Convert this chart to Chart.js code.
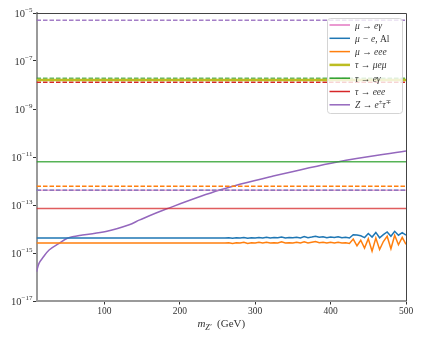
<!DOCTYPE html>
<html>
<head>
<meta charset="utf-8">
<script src="https://cdn.jsdelivr.net/npm/chart.js@4.4.0/dist/chart.umd.min.js"></script>
<style>
  html, body { margin: 0; padding: 0; background: #fff; }
</style>
</head>
<body>
<canvas id="myChart" width="424" height="339"></canvas>
<script>
const massRange = [10, 500];
const yExponents = [-17, -15, -13, -11, -9, -7, -5];
const xTicks = [100, 200, 300, 400, 500];

// legend entries, '^' marks a superscript character
const seriesNames = ['μ → eγ', 'μ − e, Al', 'μ → eee', 'τ → μeμ', 'τ → eγ', 'τ → eee', 'Z → e^±τ^∓'];
const seriesColors = ['#e377c2', '#1f77b4', '#ff7f0e', '#bcbd22', '#2ca02c', '#d62728', '#9467bd'];

// experimental bounds (dashed lines)
const boundZ = 5.0e-6;
const boundTauEGamma = 1.9e-8;
const boundTauEee = 1.3e-8;
const boundMuEee = 6.0e-13;
const boundMuEGamma = 4.1e-13;
const boundMuEAl = 4.1e-13;

// flat predictions
const tauMuEMu = 1.6e-8;
const tauEGamma = 6.4e-12;
const tauEee = 7.1e-14;

// mu-e conversion and mu -> eee, noisy at high mass
const muMass = [10, 60, 110, 160, 210, 260,
  265, 270, 275, 280, 285, 290, 295, 300, 305, 310, 315, 320, 325, 330, 335, 340,
  345, 350, 355, 360, 365, 370, 375, 380, 385, 390, 395, 400, 405, 410, 415, 420,
  425, 430, 435, 440, 445, 450, 455, 460, 465, 470, 475, 480, 485, 490, 495, 500];
const muEAl = [4.2e-15, 4.2e-15, 4.2e-15, 4.2e-15, 4.2e-15, 4.2e-15,
  4.3e-15, 4.1e-15, 4.3e-15, 4.2e-15, 4.4e-15, 4.1e-15, 4.3e-15, 4.2e-15, 4.4e-15, 4.2e-15,
  4.5e-15, 4.2e-15, 4.4e-15, 4.3e-15, 4.6e-15, 4.2e-15, 4.4e-15, 4.3e-15, 4.5e-15, 4.2e-15,
  4.8e-15, 4.3e-15, 4.6e-15, 5.0e-15, 4.5e-15, 4.7e-15, 4.3e-15, 4.6e-15, 4.4e-15, 4.7e-15,
  4.3e-15, 4.5e-15, 4.2e-15, 5.8e-15, 5.6e-15, 5.2e-15, 4.4e-15, 6.5e-15, 4.6e-15, 7.2e-15,
  4.3e-15, 5.8e-15, 7.5e-15, 5.0e-15, 8.0e-15, 5.5e-15, 7.0e-15, 5.6e-15];
const muEee = [2.6e-15, 2.6e-15, 2.6e-15, 2.6e-15, 2.6e-15, 2.6e-15,
  2.7e-15, 2.5e-15, 2.7e-15, 2.6e-15, 2.8e-15, 2.5e-15, 2.7e-15, 2.6e-15, 2.8e-15, 2.6e-15,
  2.8e-15, 2.6e-15, 2.7e-15, 2.6e-15, 2.9e-15, 2.6e-15, 2.7e-15, 2.6e-15, 2.8e-15, 2.6e-15,
  2.9e-15, 2.6e-15, 2.8e-15, 3.0e-15, 2.7e-15, 2.8e-15, 2.6e-15, 2.8e-15, 2.6e-15, 2.8e-15,
  2.6e-15, 2.7e-15, 2.5e-15, 3.8e-15, 2.0e-15, 3.4e-15, 1.6e-15, 3.9e-15, 1.2e-15, 4.2e-15,
  1.4e-15, 3.0e-15, 5.0e-15, 1.5e-15, 5.5e-15, 2.2e-15, 4.5e-15, 2.3e-15];

// Z -> e tau
const zMass = [10, 13.3, 17.8, 26.7, 40, 51, 71, 102, 133, 147, 182, 253, 324, 409, 500];
const zETau = [1.66e-16, 3.7e-16, 6.0e-16, 1.33e-15, 2.5e-15, 4.1e-15, 5.6e-15, 7.8e-15,
  1.5e-14, 2.4e-14, 6.8e-14, 4.2e-13, 1.6e-12, 6.2e-12, 1.8e-11];

const flat = v => [{ x: massRange[0], y: v }, { x: massRange[1], y: v }];
const pairs = (xs, ys) => xs.map((x, i) => ({ x: x, y: ys[i] }));

function line(data, color, width, dash) {
  return { data: data, borderColor: color, borderWidth: width, borderDash: dash || [],
    pointRadius: 0, fill: false, tension: 0 };
}

const DASH = [4.5, 2];

const datasets = [
  line(flat(boundZ), 'rgba(148,103,189,0.85)', 1.5, DASH),
  line(flat(tauMuEMu), '#bcbd22', 2.5),
  line(flat(boundTauEGamma), 'rgba(44,160,44,0.75)', 1.5, DASH),
  line(flat(boundTauEee), '#d62728', 1.5, DASH),
  line(flat(boundMuEGamma), 'rgba(227,119,194,0.6)', 1.5),
  line(flat(boundMuEAl), '#1f77b4', 1.5, DASH),
  line(flat(boundMuEee), '#ff7f0e', 1.5, DASH),
  line(flat(tauEGamma), 'rgba(44,160,44,0.8)', 1.5),
  line(flat(tauEee), 'rgba(214,39,40,0.75)', 1.5),
  line(pairs(muMass, muEAl), '#1f77b4', 1.5),
  line(pairs(muMass, muEee), '#ff7f0e', 1.5),
  Object.assign(line(pairs(zMass, zETau), '#9467bd', 1.5), { tension: 0.35 })
];

const SERIF = "'Liberation Serif', 'DejaVu Serif', serif";

// top/right spines, y tick labels, axis title and legend
const decorPlugin = {
  id: 'decor',
  afterDraw(chart) {
    const ctx = chart.ctx;
    const a = chart.chartArea;
    ctx.save();
    ctx.strokeStyle = '#444';
    ctx.lineWidth = 1;
    ctx.beginPath();
    ctx.moveTo(a.left, a.top + 0.5);
    ctx.lineTo(a.right + 0.5, a.top + 0.5);
    ctx.lineTo(a.right + 0.5, a.bottom);
    ctx.stroke();

    // y tick labels 10^n
    const ys = chart.scales.y;
    ctx.fillStyle = '#333';
    ctx.textBaseline = 'alphabetic';
    ctx.textAlign = 'left';
    yExponents.forEach(e => {
      const py = ys.getPixelForValue(Math.pow(10, e));
      const expText = '−' + Math.abs(e);
      ctx.font = '7px ' + SERIF;
      const ew = ctx.measureText(expText).width;
      ctx.font = '10.5px ' + SERIF;
      const bw = ctx.measureText('10').width;
      const right = a.left - 4;
      ctx.fillText('10', right - ew - bw, py + 3.5);
      ctx.font = '7px ' + SERIF;
      ctx.fillText(expText, right - ew, py - 1.5);
    });

    // x axis title
    const cx = (a.left + a.right) / 2;
    const ty = 327;
    ctx.font = 'italic 11px ' + SERIF;
    const mW = ctx.measureText('m').width;
    ctx.font = 'italic 8px ' + SERIF;
    const sW = ctx.measureText("Z′").width;
    ctx.font = '11px ' + SERIF;
    const gW = ctx.measureText('  (GeV)').width;
    let x0 = cx - (mW + sW + gW) / 2;
    ctx.font = 'italic 11px ' + SERIF;
    ctx.fillText('m', x0, ty);
    ctx.font = 'italic 8px ' + SERIF;
    ctx.fillText("Z′", x0 + mW, ty + 2.5);
    ctx.font = '11px ' + SERIF;
    ctx.fillText('  (GeV)', x0 + mW + sW, ty);

    // legend
    const bx = 327, by = 18, bw2 = 75, bh = 95;
    ctx.fillStyle = 'rgba(255,255,255,0.8)';
    ctx.strokeStyle = '#d4d4d4';
    ctx.lineWidth = 1;
    ctx.beginPath();
    ctx.roundRect(bx + 0.5, by + 0.5, bw2, bh, 3);
    ctx.fill();
    ctx.stroke();
    seriesNames.forEach((name, i) => {
      const yy = by + 7 + i * 13.3;
      ctx.strokeStyle = seriesColors[i];
      ctx.lineWidth = i === 3 ? 2.5 : 1.5;
      ctx.beginPath();
      ctx.moveTo(bx + 2.5, yy);
      ctx.lineTo(bx + 23, yy);
      ctx.stroke();
      ctx.fillStyle = '#333';
      let tx = bx + 28;
      const parts = name.split(/(\^.)/);
      parts.forEach(p => {
        if (!p) return;
        if (p[0] === '^') {
          ctx.font = 'italic 6.5px ' + SERIF;
          ctx.fillText(p[1], tx, yy - 0.5);
          tx += ctx.measureText(p[1]).width;
        } else if (p.endsWith('Al')) {
          ctx.font = 'italic 9.5px ' + SERIF;
          const pre = p.slice(0, -2);
          ctx.fillText(pre, tx, yy + 3.5);
          tx += ctx.measureText(pre).width;
          ctx.font = '9.5px ' + SERIF;
          ctx.fillText('Al', tx, yy + 3.5);
          tx += ctx.measureText('Al').width;
        } else {
          ctx.font = 'italic 9.5px ' + SERIF;
          ctx.fillText(p, tx, yy + 3.5);
          tx += ctx.measureText(p).width;
        }
      });
    });
    ctx.restore();
  }
};

new Chart(document.getElementById('myChart'), {
  type: 'line',
  data: { datasets: datasets },
  options: {
    responsive: false,
    animation: false,
    layout: { padding: { top: 13, right: 18, left: 0, bottom: 0 } },
    plugins: { legend: { display: false }, tooltip: { enabled: false } },
    scales: {
      x: {
        type: 'linear',
        min: massRange[0],
        max: massRange[1],
        afterBuildTicks: s => { s.ticks = xTicks.map(v => ({ value: v })); },
        afterFit: s => { s.height = 38; },
        border: { display: true, color: '#9a9a9a', width: 2 },
        grid: { drawOnChartArea: false, drawTicks: true, tickLength: 3.5, tickColor: '#333' },
        ticks: { padding: 1, color: '#333', maxRotation: 0, font: { family: SERIF, size: 9.5 } }
      },
      y: {
        type: 'logarithmic',
        min: 1e-17,
        max: 1e-5,
        afterBuildTicks: s => { s.ticks = yExponents.map(e => ({ value: Math.pow(10, e) })); },
        afterFit: s => { s.width = 36.5; },
        border: { display: true, color: '#9a9a9a', width: 2 },
        grid: { drawOnChartArea: false, drawTicks: true, tickLength: 3.5, tickColor: '#333' },
        ticks: { display: false }
      }
    }
  },
  plugins: [decorPlugin]
});
</script>
</body>
</html>
